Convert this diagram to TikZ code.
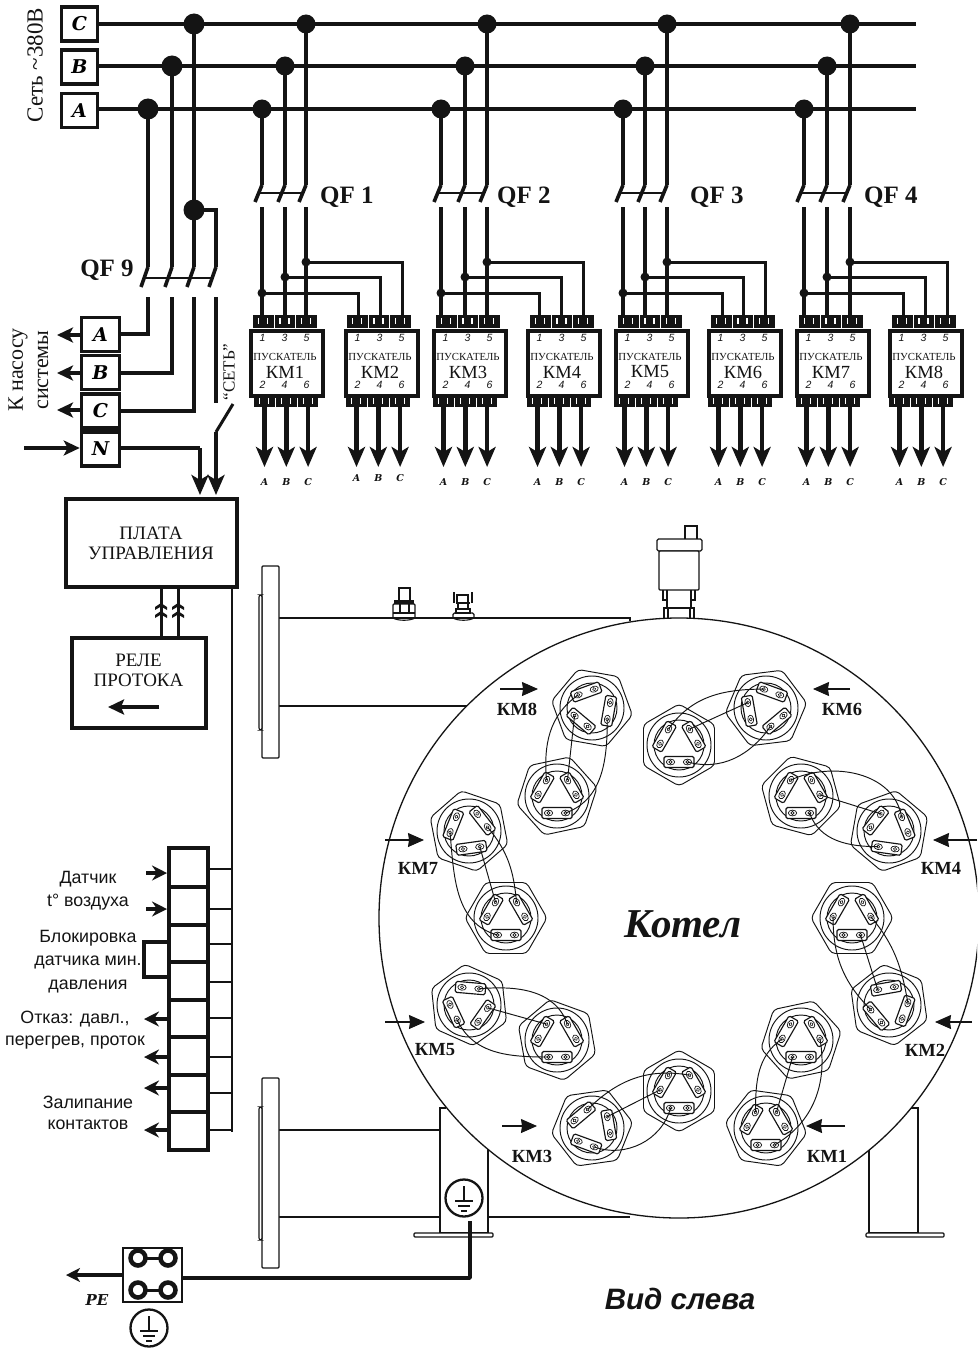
\documentclass[tikz,border=0pt]{standalone}
\usepackage{fontspec}
\setmainfont{Liberation Serif}
\setsansfont{Liberation Sans}
\newfontfamily\slabfont{DejaVu Serif}
\usetikzlibrary{arrows.meta,calc}
\definecolor{ink}{HTML}{141414}
\tikzset{
  bus/.style={line width=4.5pt,draw=ink,line cap=butt},
  wire/.style={line width=3pt,draw=ink},
  thinl/.style={line width=1.1pt,draw=ink},
  hw/.style={line width=.95pt,draw=ink},
  termbox/.style={draw=ink,line width=3.6pt,fill=white,minimum width=36pt,minimum height=34pt,inner sep=0pt,font=\slabfont\bfseries\itshape\fontsize{19}{19}\selectfont},
  cell/.style={draw=ink,line width=3.6pt,fill=white},
  bigarrow/.style={-{Stealth[length=20pt,width=17pt,inset=5pt]},line width=4.5pt,draw=ink,color=ink},
  midarrow/.style={-{Stealth[length=16pt,width=15pt,inset=4pt]},line width=3.6pt,color=ink},
  smallarrow/.style={-{Stealth[length=16pt,width=14pt,inset=1pt]},line width=1.1pt,color=ink},
  kmlabel/.style={font=\bfseries\fontsize{18.5}{18.5}\selectfont,text=ink,inner sep=0pt},
  qflabel/.style={font=\bfseries\fontsize{25}{25}\selectfont,text=ink,inner sep=0pt},
  sans/.style={font=\sffamily\fontsize{17.8}{17.8}\selectfont,text=ink,inner sep=0pt},
  phase/.style={font=\slabfont\bfseries\itshape\fontsize{9.5}{9.5}\selectfont,text=ink,inner sep=0pt},
  pin/.style={font=\sffamily\itshape\fontsize{10.5}{10.5}\selectfont,text=ink,inner sep=0pt},
  title/.style={font=\fontsize{19}{19}\selectfont,text=ink,inner sep=0pt},
}
% phase take-off from the buses, breaker and bridge to the even contactor
\newcommand\qfgrp[9]{%
  \coordinate (q#1a) at (#2,109); \coordinate (q#1b) at (#3,66); \coordinate (q#1c) at (#4,24);
  \fill[ink] (q#1a) circle[radius=9.5]; \fill[ink] (q#1b) circle[radius=9.5]; \fill[ink] (q#1c) circle[radius=9.5];
  \foreach \p/\x/\xe/\yj in {a/#2/#7/293,b/#3/#8/277,c/#4/#9/262}{
    \coordinate (q#1\p T) at (\x,185);
    \coordinate (q#1\p S) at (\x-7,202);
    \coordinate (q#1\p O) at (\x,207);
    \coordinate (q#1\p K) at (\x,315);
    \coordinate (q#1\p J) at (\x,\yj);
    \coordinate (q#1\p E) at (\xe,\yj);
    \coordinate (q#1\p F) at (\xe,315);
    \draw[bus] (q#1\p) -- (q#1\p T);
    \draw[line width=3.6pt,draw=ink] (q#1\p T) -- (q#1\p S);
    \draw[bus] (q#1\p O) -- (q#1\p K);
    \draw[wire] (q#1\p J) -- (q#1\p E) -- (q#1\p F);
    \fill[ink] (q#1\p J) circle[radius=4.5];
  }
  \draw[line width=2pt,draw=ink] ($(q#1aS)!0.5!(q#1aT)$) -- ($(q#1cS)!0.5!(q#1cT)$);
  \node[qflabel,anchor=west] (qflab#1) at (#5,#6) {QF #1};
}
% contactor: number, body left, top block left, bottom block left, phase label y
\newcommand\kmbox[5]{%
  \foreach \k/\ph in {0/A,1/B,2/C}{
    \pgfmathsetmacro\tx{#3+21.5*\k}
    \pgfmathsetmacro\bx{#4+21.8*\k}
    \fill[ink] (\tx,315) rectangle (\tx+20.5,328);
    \fill[ink] (\bx,395) rectangle (\bx+20.8,407);
    \draw[line width=1.2pt,white] (\tx+5.5,318) -- (\tx+5.5,324) (\tx+14.5,318) -- (\tx+14.5,324);
    \draw[line width=1.2pt,white] (\bx+5.5,398) -- (\bx+5.5,404) (\bx+14.5,398) -- (\bx+14.5,404);
    \coordinate (km#1o\k) at (\bx+10.5,407);
    \coordinate (km#1t\k) at (\bx+10.5,467);
    \draw[bigarrow] (km#1o\k) -- (km#1t\k);
    \node[phase] (km#1l\k) at (\bx+10.5,#5) {\ph};
  }
  \node[draw=ink,line width=4pt,fill=white,minimum width=72pt,minimum height=65pt,inner sep=0pt,anchor=north west] (km#1) at (#2+2,329) {};
  \foreach \k/\a/\b in {0/1/2,1/3/4,2/5/6}{
    \node[pin] (km#1pa\k) at (#2+15.5+22*\k,338) {\a};
    \node[pin] (km#1pb\k) at (#2+15.5+22*\k,385) {\b};
  }
  \node[inner sep=0pt,text=ink,font=\fontsize{10.8}{10.8}\selectfont] (km#1nm) at (#2+38,357) {ПУСКАТЕЛЬ};
  \node[inner sep=0pt,text=ink,font=\fontsize{18.5}{18.5}\selectfont] (km#1id) at (#2+38,372) {КМ#1};
}
% heater: name, x, y, hexagon rotation, plate rotation
\newcommand\hter[5]{%
  \begin{scope}[shift={(#2,#3)}]
    \begin{scope}[rotate=#4]
      \draw[hw,rounded corners=4pt] (0:41) -- (60:41) -- (120:41) -- (180:41) -- (240:41) -- (300:41) -- cycle;
    \end{scope}
    \draw[hw] (0,0) circle[radius=32];
    \draw[hw] (0,0) circle[radius=25];
    \foreach \k in {0,1,2}{
      \pgfmathsetmacro\ang{#5+120*\k}
      \begin{scope}[rotate=\ang]
        \draw[line width=1.15pt,draw=ink,fill=white,rounded corners=1.5pt] (-15,11.5) rectangle (15,22.5);
        \foreach \s in {-8.5,8.5}{
          \draw[line width=.7pt,draw=ink] (\s,17) ellipse[x radius=4.2,y radius=2.9];
          \draw[line width=.6pt,draw=ink] (\s,17) circle[radius=1.6];
        }
        \coordinate (#1p\k a) at (-8.5,17);
        \coordinate (#1p\k b) at (8.5,17);
      \end{scope}
    }
  \end{scope}
}
\newcommand\gndsym[4]{%
  \node[circle,draw=ink,line width=2.3pt,minimum size=#4pt,inner sep=0pt] (#1) at (#2,#3) {};
  \draw[line width=1.4pt,draw=ink] (#2,#3-12) -- (#2,#3+3);
  \draw[line width=1.4pt,draw=ink] (#2-9,#3+3) -- (#2+9,#3+3) (#2-6,#3+8) -- (#2+6,#3+8) (#2-3,#3+13) -- (#2+3,#3+13);
}
\begin{document}
\begin{tikzpicture}[x=1pt,y=-1pt]
\clip (0,0) rectangle (977,1359);
\fill[white] (0,0) rectangle (977,1359);

% ---- supply terminals and buses
\node[termbox] (tC) at (79.5,24) {C};
\node[termbox] (tB) at (79.5,67) {B};
\node[termbox] (tA) at (79.5,110.5) {A};
\coordinate (endC) at (916,24); \coordinate (endB) at (916,66); \coordinate (endA) at (916,109);
\draw[bus] (tC.east|-endC) -- (endC);
\draw[bus] (tB.east|-endB) -- (endB);
\draw[bus] (tA.east|-endA) -- (endA);
\node[rotate=90,inner sep=0pt,text=ink,font=\fontsize{23}{23}\selectfont] (lnet) at (35,65) {Сеть \textasciitilde380В};

% ---- QF 9
\coordinate (d9a) at (148,109); \coordinate (d9b) at (172,66); \coordinate (d9c) at (194,24); \coordinate (d9n) at (194,210);
\foreach \d in {d9a,d9b,d9c,d9n}{\fill[ink] (\d) circle[radius=10.5];}
\foreach \p/\x in {a/148,b/172,c/194,n/216}{
  \coordinate (s\p T) at (\x,267);
  \coordinate (s\p S) at (\x-7,287);
  \coordinate (s\p O) at (\x,297);
  \draw[line width=3.6pt,draw=ink] (s\p T) -- (s\p S);
}
\draw[bus] (d9a) -- (saT);
\draw[bus] (d9b) -- (sbT);
\draw[bus] (d9c) -- (scT);
\draw[bus] (d9n) -| (snT);
\draw[line width=2pt,draw=ink] (144,278) -- (212,278);
\node[qflabel] (qf9) at (107,270) {QF 9};

% ---- pump terminals
\node[termbox,minimum width=38pt] (pA) at (100.5,334.5) {A};
\node[termbox,minimum width=38pt] (pB) at (100.5,372.5) {B};
\node[termbox,minimum width=38pt] (pC) at (100.5,411) {C};
\node[termbox,minimum width=38pt] (pN) at (100.5,449) {N};
\coordinate (ja) at (148,334); \coordinate (jb) at (172,373); \coordinate (jc) at (194,411);
\draw[bus] (saO) -- (ja) -- (pA.east|-ja);
\draw[bus] (sbO) -- (jb) -- (pB.east|-jb);
\draw[bus] (scO) -- (jc) -- (pC.east|-jc);
\foreach \n/\y in {A/335,B/373,C/410}{
  \coordinate (pt\n) at (57,\y);
  \draw[midarrow] (p\n.west|-pt\n) -- (pt\n);
}
\coordinate (nin) at (24,448);
\draw[midarrow] (nin) -- (pN.west|-nin);
\coordinate (netTop) at (216,403);
\draw[bus] (snO) -- (netTop);
\coordinate (swA) at (233,404); \coordinate (swB) at (216,432); \coordinate (netIn) at (216,495);
\draw[line width=3pt,draw=ink] (swA) -- (swB);
\draw[bigarrow] (swB) -- (netIn);
\coordinate (nBend) at (200,448); \coordinate (nIn) at (200,495);
\draw[line width=4pt,draw=ink] (pN.east|-nBend) -- (nBend);
\draw[bigarrow] (nBend) -- (nIn);
\node[rotate=90,inner sep=0pt,text=ink,font=\fontsize{17}{17}\selectfont] (lset) at (229,372) {“СЕТЬ”};
\node[rotate=90,inner sep=0pt,text=ink,font=\fontsize{22}{22}\selectfont] (lp1) at (18,370) {К насосу};
\node[rotate=90,inner sep=0pt,text=ink,font=\fontsize{22}{22}\selectfont] (lp2) at (43,370) {системы};

% ---- breakers and contactors
\qfgrp{1}{262}{285}{306}{320}{197}{358}{380}{402}
\qfgrp{2}{441}{465}{487}{497}{197}{539}{561}{583}
\qfgrp{3}{623}{645}{667}{690}{197}{722}{743}{765}
\qfgrp{4}{804}{827}{850}{864}{197}{903}{925}{947}
\kmbox{1}{247}{253}{254}{482}
\kmbox{2}{342}{347}{346}{478}
\kmbox{3}{430}{436}{433}{482}
\kmbox{4}{524}{530}{527}{482}
\kmbox{5}{612}{618}{614}{482}
\kmbox{6}{705}{711}{708}{482}
\kmbox{7}{793}{799}{796}{482}
\kmbox{8}{886}{892}{889}{482}

% ---- control board, flow relay
\node[draw=ink,line width=4pt,fill=white,minimum width=171pt,minimum height=88pt,inner sep=0pt] (board) at (151,543) {};
\node[title] (b1) at (151,533) {ПЛАТА};
\node[title] (b2) at (151,553) {УПРАВЛЕНИЯ};
\node[draw=ink,line width=4pt,fill=white,minimum width=134pt,minimum height=90pt,inner sep=0pt] (relay) at (138.5,683) {};
\node[title] (r1) at (138.5,660) {РЕЛЕ};
\node[title] (r2) at (138.5,680) {ПРОТОКА};
\coordinate (flowA) at (159,707); \coordinate (flowB) at (108,707);
\draw[midarrow,line width=4pt,-{Stealth[length=16pt,width=15pt,inset=3pt]}] (flowA) -- (flowB);
\foreach \x in {161,178}{
  \coordinate (c\x a) at (\x,588); \coordinate (c\x b) at (\x,637);
  \draw[line width=3pt,draw=ink] (c\x a) -- (c\x b);
  \fill[ink] (\x-6,607) -- (\x,603) -- (\x+6,607) -- (\x+6,610) -- (\x,606.5) -- (\x-6,610) -- cycle;
  \fill[ink] (\x-6,615) -- (\x,611) -- (\x+6,615) -- (\x+6,618) -- (\x,614.5) -- (\x-6,618) -- cycle;
}
\coordinate (railT) at (232,588); \coordinate (railB) at (232,1132);
\draw[line width=2.2pt,draw=ink] (railT) -- (railB);

% ---- terminal strip
\foreach \i/\a/\b in {1/848/887,2/887/925,3/925/962,4/962/1000,5/1000/1037,6/1037/1075,7/1075/1112,8/1112/1150}{
  \draw[cell] (169,\a) rectangle (208,\b);
}
\foreach \y in {869,909,944,982,1018,1057,1093,1130}{
  \draw[line width=1.4pt,draw=ink] (208,\y) -- (232,\y);
}
\foreach \y in {873,909}{\draw[midarrow,-{Stealth[length=15pt,width=15pt,inset=5pt]}] (146,\y) -- (167,\y);}
\foreach \y in {1019,1057,1088,1130}{\draw[midarrow,-{Stealth[length=15pt,width=15pt,inset=5pt]}] (167,\y) -- (144,\y);}
\draw[line width=3.4pt,draw=ink] (168,942) -- (144,942) -- (144,977) -- (168,977);
\node[sans] (s1) at (88,879) {Датчик};
\node[sans] (s2) at (88,902) {t° воздуха};
\node[sans] (s3) at (88,938) {Блокировка};
\node[sans] (s4) at (88,962) {датчика мин.};
\node[sans] (s5) at (88,986) {давления};
\node[sans] (s6) at (75,1019) {Отказ: давл.,};
\node[sans] (s7) at (75,1043) {перегрев, проток};
\node[sans] (s8) at (88,1102) {Залипание};
\node[sans] (s9) at (88,1125) {контактов};

% ---- boiler side view
\draw[thinl] (279,618) -- (630,618) -- (630,621);
\draw[thinl] (279,706) -- (470,706);
\draw[thinl] (279,1130) -- (440,1130);
\draw[thinl] (279,1217) -- (440,1217) (488,1217) -- (630,1217);
\draw[thinl,fill=white,rounded corners=1pt] (262,566) rectangle (279,758);
\draw[thinl,fill=white,rounded corners=2pt] (259,595) -- (262,595) -- (262,730) -- (259,730) -- cycle;
\draw[thinl,fill=white,rounded corners=1pt] (262,1078) rectangle (279,1268);
\draw[thinl,fill=white,rounded corners=2pt] (259,1107) -- (262,1107) -- (262,1240) -- (259,1240) -- cycle;
% supports
\draw[thinl,fill=white] (446,1108) -- (440,1108) -- (440,1233) -- (488,1233) -- (488,1149);
\draw[thinl,rounded corners=1pt,fill=white] (414,1233) rectangle (493,1237);
\draw[thinl,fill=white] (869,1150) -- (869,1233) -- (918,1233) -- (918,1108) -- (911,1108);
\draw[thinl,rounded corners=1pt,fill=white] (866,1233) rectangle (944,1237);
% vent
\draw[thinl,fill=white] (685,539) -- (685,526) -- (697,526) -- (697,539);
\draw[thinl,fill=white,rounded corners=1.5pt] (657,539) rectangle (702,551);
\draw[thinl,fill=white,rounded corners=1pt] (659,551) rectangle (699,590);
\draw[thinl] (663,590) -- (663,600) -- (667,600) (695,590) -- (695,600) -- (691,600) (667,590) -- (667,608) (691,590) -- (691,608);
\draw[thinl] (664,618) -- (664,608) -- (694,608) -- (694,618) (668,608) -- (668,618) (690,608) -- (690,618);
% sensors
\draw[thinl] (399,602) -- (399,588) -- (410,588) -- (410,602);
\draw[thinl] (395,601) rectangle (413,603);
\draw[thinl,rounded corners=1pt] (393,618) -- (393,604) -- (415,604) -- (415,618);
\draw[thinl] (400,604) -- (400,614) (409,604) -- (409,614) (393,613) -- (415,613);
\draw[thinl] (393,618) .. controls (398,621) and (410,621) .. (415,618);
\draw[thinl] (457,603) rectangle (468,595);
\draw[line width=1.8pt,draw=ink] (454,592) -- (454,603) (472,592) -- (472,603);
\draw[thinl] (456,603) -- (470,603) (458,603) -- (458,609) (468,603) -- (468,609) (456,609) rectangle (470,613);
\draw[thinl,rounded corners=1.5pt] (453,618) -- (453,613) -- (474,613) -- (474,618);
\draw[thinl] (453,618) .. controls (458,621) and (469,621) .. (474,618);

% ---- boiler end view
\draw[line width=1.3pt,draw=ink,fill=white] (679,918) circle[radius=300];
\node[inner sep=0pt,text=ink,font=\bfseries\itshape\fontsize{41}{41}\selectfont] (kotel) at (683,924) {Котел};

% heaters
\hter{a8}{557}{796}{12}{0}   \hter{b8}{592}{708}{-10}{80}
\hter{a6}{679}{745}{30}{0}   \hter{b6}{766}{708}{7}{40}
\hter{a4}{801}{796}{-15}{0}  \hter{b4}{889}{831}{20}{-8}
\hter{a2}{852}{918}{0}{0}    \hter{b2}{889}{1005}{-22}{70}
\hter{a1}{801}{1040}{12}{0}  \hter{b1}{766}{1128}{-8}{0}
\hter{a3}{679}{1091}{30}{0}  \hter{b3}{592}{1128}{8}{-20}
\hter{a5}{557}{1040}{-20}{0} \hter{b5}{469}{1005}{-24}{55}
\hter{a7}{506}{918}{0}{0}    \hter{b7}{469}{831}{-19}{8}

\begin{scope}[hw]
\draw (a8p1b) -- (b8p2a);
\draw (a8p2a) to[out=95,in=215] (b8p1b);
\draw (a8p0b) to[out=20,in=-90] (b8p0a);
\draw (a6p1b) -- (b6p2a);
\draw (a6p2a) to[out=55,in=180] (b6p1b);
\draw (a6p0b) to[out=-15,in=235] (b6p0a);
\draw (a4p1a) -- (b4p2a);
\draw (a4p2a) to[out=25,in=100] (b4p1b);
\draw (a4p0b) to[out=-70,in=180] (b4p0a);
\draw (a2p0b) -- (b2p1b);
\draw (a2p1a) to[out=-50,in=100] (b2p0b);
\draw (a2p2b) to[out=-90,in=135] (b2p2a);
\draw (a1p0a) -- (b1p1b);
\draw (a1p2b) to[out=215,in=90] (b1p2a);
\draw (a1p1a) to[out=-80,in=30] (b1p0b);
\draw (a3p2b) -- (b3p1b);
\draw (a3p1b) to[out=170,in=45] (b3p2a);
\draw (a3p0a) to[out=-105,in=-20] (b3p0b);
\draw (b5p0b) -- (a5p2a);
\draw (b5p1a) to[out=5,in=110] (a5p1b);
\draw (b5p2b) to[out=-65,in=180] (a5p0a);
\draw (b7p0b) -- (a7p2a);
\draw (b7p1a) to[out=-50,in=95] (a7p1b);
\draw (b7p2b) to[out=-85,in=165] (a7p0a);
\end{scope}

% feed arrows and labels
\foreach \n/\ax/\bx/\y/\lx/\ly in {8/500/538/689/517/709,6/850/813/689/842/709,4/977/933/840/941/868,2/972/935/1022/925/1050,1/845/806/1126/827/1156,3/502/537/1126/532/1156,5/385/425/1022/435/1050,7/385/424/840/418/868}{
  \coordinate (fa\n) at (\ax,\y); \coordinate (fb\n) at (\bx,\y);
  \draw[smallarrow] (fa\n) -- (fb\n);
  \node[kmlabel] (fl\n) at (\lx,\ly) {КМ\n};
}

% ---- earth
\gndsym{gA}{464}{1198}{37}
\node[draw=ink,line width=2pt,fill=white,minimum width=59pt,minimum height=54pt,inner sep=0pt] (pebox) at (152.5,1275) {};
\coordinate (gB) at (470,1278); \coordinate (gT) at (470,1221);
\draw[line width=3.6pt,draw=ink,line join=round] (gT) -- (gB) -- (pebox.east|-gB);
\foreach \y in {1258,1290}{
  \draw[line width=4.5pt,draw=ink] (138,\y) circle[radius=7.5];
  \draw[line width=4.5pt,draw=ink] (168,\y) circle[radius=7.5];
  \draw[line width=3pt,draw=ink] (146,\y) -- (160,\y);
}
\coordinate (peT) at (66,1275);
\draw[midarrow,-{Stealth[length=14pt,width=14pt,inset=4pt]}] (pebox.west|-peT) -- (peT);
\node[inner sep=0pt,text=ink,font=\slabfont\bfseries\itshape\fontsize{15}{15}\selectfont] (pelab) at (97,1300) {PE};
\gndsym{gB2}{149}{1328}{37}
\node[inner sep=0pt,text=ink,font=\sffamily\bfseries\itshape\fontsize{29.5}{29.5}\selectfont] (vid) at (680,1299) {Вид слева};
\end{tikzpicture}
\end{document}
